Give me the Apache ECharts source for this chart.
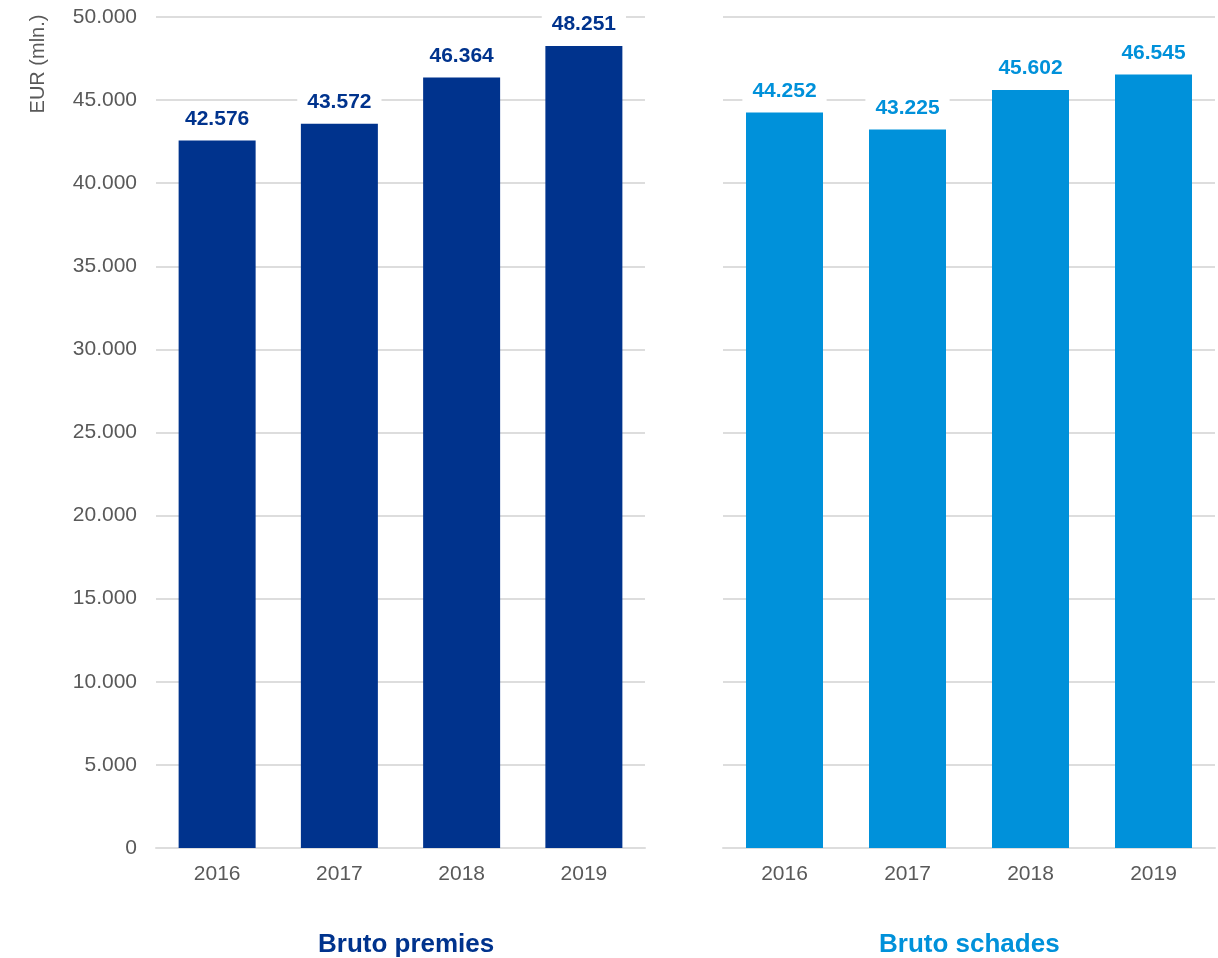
<!DOCTYPE html>
<html>
<head>
<meta charset="utf-8">
<script src="https://cdn.jsdelivr.net/npm/echarts@6/dist/echarts.min.js"></script>
<style>
html,body{margin:0;padding:0;background:#fff;}
#chart{width:1218px;height:958px;}
</style>
</head>
<body>
<div id="chart"></div>
<script>
var categories = ['2016', '2017', '2018', '2019'];
var premiesValues = [42576, 43572, 46364, 48251];
var schadesValues = [44252, 43225, 45602, 46545];
var panelTitles = ['Bruto premies', 'Bruto schades'];
var yAxisName = 'EUR (mln.)';

var DARK = '#00338D';
var LIGHT = '#0091DA';
var GRID = '#DDDDDD';
var TXT = '#595959';
var FONT = 'Liberation Sans, Arial, Helvetica, sans-serif';

function fmt(v) {
  return String(v).replace(/\B(?=(\d{3})+(?!\d))/g, '.');
}

var chart = echarts.init(document.getElementById('chart'), null, {renderer: 'canvas'});

function yAxis(idx, showLabels) {
  return {
    type: 'value', gridIndex: idx, min: 0, max: 50000, interval: 5000,
    axisLine: {show: false}, axisTick: {show: false},
    axisLabel: {show: showLabels, formatter: fmt, color: TXT, fontSize: 21, fontFamily: FONT, margin: 19},
    splitLine: {show: true, lineStyle: {color: GRID, width: 2}}
  };
}
function xAxis(idx) {
  return {
    type: 'category', gridIndex: idx, data: categories,
    axisLine: {show: true, lineStyle: {color: GRID, width: 2}},
    axisTick: {show: false},
    axisLabel: {color: TXT, fontSize: 21, fontFamily: FONT, margin: 16}
  };
}
function barSeries(idx, data, color) {
  return {
    type: 'bar', xAxisIndex: idx, yAxisIndex: idx, data: data, barWidth: 77,
    itemStyle: {color: color},
    label: {
      show: true, position: 'top', distance: 4, formatter: function (p) { return fmt(p.value); },
      color: color, fontSize: 21, fontWeight: 'bold', fontFamily: FONT,
      backgroundColor: '#ffffff', padding: [7, 10, 7, 10]
    }
  };
}

chart.setOption({
  animation: false,
  backgroundColor: '#ffffff',
  grid: [
    {left: 156, right: 573, top: 17, bottom: 110},
    {left: 723, right: 3, top: 17, bottom: 110}
  ],
  xAxis: [xAxis(0), xAxis(1)],
  yAxis: [yAxis(0, true), yAxis(1, false)],
  title: [
    {text: panelTitles[0], left: 313, top: 927,
     textStyle: {color: DARK, fontSize: 26, fontWeight: 'bold', fontFamily: FONT}},
    {text: panelTitles[1], left: 874, top: 927,
     textStyle: {color: LIGHT, fontSize: 26, fontWeight: 'bold', fontFamily: FONT}}
  ],
  graphic: [{
    type: 'text', x: 38, y: 64, rotation: Math.PI / 2,
    style: {text: yAxisName, fill: TXT, fontSize: 20, fontFamily: FONT, align: 'center', verticalAlign: 'middle'}
  }],
  series: [
    barSeries(0, premiesValues, DARK),
    barSeries(1, schadesValues, LIGHT)
  ]
});
</script>
</body>
</html>
